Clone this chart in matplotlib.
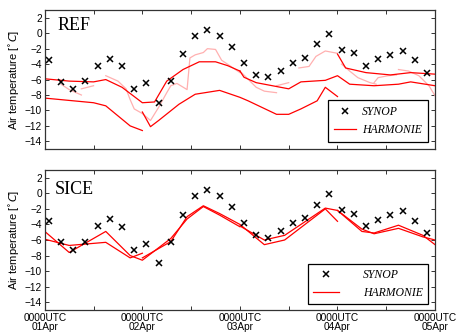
import numpy as np
import matplotlib
matplotlib.use("Agg")
import matplotlib.pyplot as plt
from matplotlib.ticker import MultipleLocator

# hours since 0000UTC 01Apr
synop_t = [1, 4, 7, 10, 13, 16, 19, 22, 25, 28, 31, 34, 37, 40, 43, 46,
           49, 52, 55, 58, 61, 64, 67, 70, 73, 76, 79, 82, 85, 88, 91, 94]
synop_v = [-3.5, -6.3, -7.25, -6.2, -4.2, -3.3, -4.3, -7.25, -6.5, -9.0, -6.2, -2.75,
           -0.4, 0.4, -0.35, -1.8, -3.85, -5.35, -5.7, -4.9, -3.85, -3.2, -1.45, -0.1,
           -2.2, -2.6, -4.2, -3.4, -2.8, -2.3, -3.5, -5.1]

# REF: HARMONIE forecast runs (bright)
ref_prev_t = [0, 6, 12, 15, 18, 21, 24]
ref_prev_v = [-8.4, -8.7, -9.0, -9.4, -10.7, -12.0, -12.6]
ref_run0_t = [0, 6, 12, 15, 19, 24, 27, 30, 34, 38, 42, 45, 48]
ref_run0_v = [-5.9, -6.2, -6.3, -6.0, -7.0, -9.0, -8.9, -6.2, -4.7, -3.7, -3.7, -4.2, -4.9]
ref_run1_t = [24, 26, 28, 33, 37, 43, 48, 50, 57, 60, 63, 67, 69, 72]
ref_run1_v = [-10.2, -12.1, -11.3, -9.2, -7.9, -7.4, -8.3, -8.75, -10.5, -10.5, -9.8, -8.75, -7.0, -8.2]
ref_run2_t = [48, 49, 52, 56, 60, 63, 69, 72, 75, 81, 87, 90, 96]
ref_run2_v = [-4.9, -5.7, -6.4, -6.8, -7.2, -6.3, -6.1, -5.5, -6.6, -6.8, -6.6, -6.3, -6.8]
ref_run3_t = [72, 74, 79, 85, 90, 96]
ref_run3_v = [-2.7, -4.5, -5.1, -5.4, -5.1, -5.3]

# REF: short light segments
ref_light_t = [[4, 6, 9], [9, 12], [15, 18, 20, 21, 22, 24],
               [24, 26, 28, 30, 31, 32.5, 35, 35.7, 37, 39, 40, 42, 43.5, 45.5, 48],
               [48, 52, 54, 57], [57, 60], [62.5, 65, 66.7, 69, 72],
               [73, 75, 77, 80, 81.5], [81, 82, 84.5, 86.5], [87, 89.5, 92, 94.5, 96]]
ref_light_v = [[-6.6, -7.3, -8.0], [-7.2, -6.8], [-5.5, -6.2, -7.2, -8.6, -9.8, -10.4],
               [-10.4, -11.3, -9.6, -7.7, -6.8, -6.5, -7.3, -3.2, -2.8, -2.5, -2.0, -2.1, -3.5, -4.2, -5.1],
               [-4.9, -7.0, -7.5, -7.7], [-6.8, -6.4], [-4.5, -4.3, -3.0, -2.3, -2.6],
               [-4.0, -4.9, -5.75, -6.4, -6.6], [-6.4, -5.75, -5.5, -5.4], [-4.7, -4.9, -5.5, -6.8, -8.1]]

# SICE: HARMONIE forecast runs
sice_prev_t = [0, 6, 15, 21, 24]
sice_prev_v = [-5.9, -6.7, -6.3, -8.3, -7.7]
sice_run0_t = [0, 6, 15, 21, 24, 31, 35, 39, 43, 48]
sice_run0_v = [-4.9, -7.6, -4.9, -8.0, -8.6, -5.8, -3.3, -1.7, -2.8, -4.3]
sice_run1_t = [24, 31, 35, 39, 43, 48, 54, 59, 69, 72]
sice_run1_v = [-8.3, -6.2, -3.0, -1.6, -2.6, -4.0, -6.6, -6.0, -2.0, -3.6]
sice_run2_t = [48, 54, 59, 69, 72, 78, 81, 87, 93, 96]
sice_run2_v = [-4.2, -6.0, -5.4, -1.9, -2.2, -4.9, -5.1, -4.1, -5.4, -6.6]
sice_run3_t = [72, 78, 81, 87, 93, 96]
sice_run3_v = [-2.2, -4.6, -5.2, -4.5, -5.6, -6.0]

xticks = [0, 24, 48, 72, 96]
xticklabels = ["0000UTC\n01Apr", "0000UTC\n02Apr", "0000UTC\n03Apr", "0000UTC\n04Apr", "0000UTC\n05Apr"]

RED = "#ff0000"
PINK = "#ffb0b0"
plt.rcParams["font.family"] = ["Liberation Sans", "DejaVu Sans"]

fig = plt.figure(figsize=(4.57, 3.35), dpi=100)
ax1 = fig.add_axes([0.098, 0.555, 0.854, 0.415])
ax2 = fig.add_axes([0.098, 0.0746, 0.854, 0.418])


def style(ax, show_x):
    ax.set_xlim(0, 96); ax.set_ylim(-15, 3)
    ax.set_xticks(xticks)
    ax.xaxis.set_minor_locator(MultipleLocator(12))
    ax.set_yticks(range(-14, 3, 2))
    ax.tick_params(which="both", direction="in", top=True, right=True, labelsize=7.3,
                   length=3, width=0.7, color="#333333", pad=2)
    if show_x:
        ax.set_xticklabels(xticklabels, linespacing=0.95)
    else:
        ax.set_xticklabels([])
    ax.set_ylabel(r"Air temperature [$^{\circ}C$]", fontsize=8, labelpad=2)
    for s in ax.spines.values():
        s.set_linewidth(0.9); s.set_color("#333333")


for tt, vv in zip(ref_light_t, ref_light_v):
    ax1.plot(tt, vv, color=PINK, lw=0.9)
for tt, vv in [(ref_prev_t, ref_prev_v), (ref_run0_t, ref_run0_v), (ref_run1_t, ref_run1_v),
               (ref_run2_t, ref_run2_v), (ref_run3_t, ref_run3_v)]:
    ax1.plot(tt, vv, color=RED, lw=0.9)
ax1.plot(synop_t, synop_v, "x", color="k", ms=3.8, mew=1.1)
ax1.text(0.033, 0.856, "REF", transform=ax1.transAxes, fontsize=13,
         family=["Liberation Serif"], va="baseline")
style(ax1, False)
h1 = [plt.Line2D([], [], ls="none", marker="x", color="k", ms=3.8, mew=1.1),
      plt.Line2D([], [], color=RED, lw=0.9)]
leg = ax1.legend(h1, ["SYNOP", "HARMONIE"], loc="lower right", bbox_to_anchor=(0.982, 0.05),
                 borderaxespad=0, fancybox=False, edgecolor="k", framealpha=1,
                 prop={"family": "Liberation Serif", "style": "italic", "size": 8.5},
                 handlelength=1.9, handletextpad=0.5, borderpad=0.5, labelspacing=0.5)
leg.get_frame().set_linewidth(0.9)

for tt, vv in [(sice_prev_t, sice_prev_v), (sice_run0_t, sice_run0_v), (sice_run1_t, sice_run1_v),
               (sice_run2_t, sice_run2_v), (sice_run3_t, sice_run3_v)]:
    ax2.plot(tt, vv, color=RED, lw=0.9)
ax2.plot(synop_t, synop_v, "x", color="k", ms=3.8, mew=1.1)
ax2.text(0.026, 0.826, "SICE", transform=ax2.transAxes, fontsize=13,
         family=["Liberation Serif"], va="baseline")
style(ax2, True)
leg = ax2.legend(h1, ["SYNOP", "HARMONIE"], loc="lower right", bbox_to_anchor=(0.982, 0.043),
                 borderaxespad=0, fancybox=False, edgecolor="k", framealpha=1,
                 prop={"family": "Liberation Serif", "style": "italic", "size": 8.5},
                 handlelength=2.2, handletextpad=2.0, borderpad=0.45, labelspacing=0.45)
leg.get_frame().set_linewidth(0.9)

fig.savefig("out.png", dpi=100)
